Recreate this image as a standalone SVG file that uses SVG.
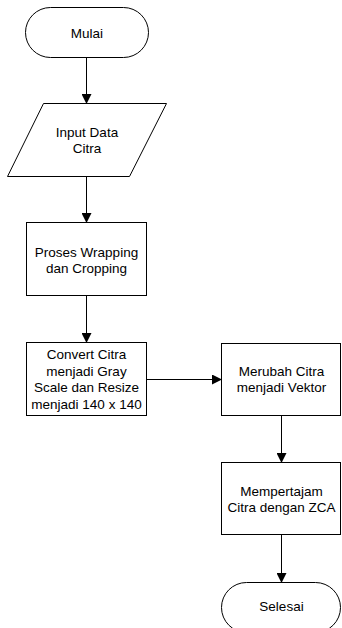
<svg xmlns="http://www.w3.org/2000/svg" width="342" height="628" viewBox="0 0 342 628">
<defs>
<marker id="ah" markerWidth="10" markerHeight="10" refX="9" refY="5" orient="auto" markerUnits="userSpaceOnUse">
<path d="M0,0 L10,5 L0,10 z" fill="#000"/>
</marker>
<style>
.s{fill:#fff;stroke:#000;stroke-width:1}
.t{font-family:"Liberation Sans",Arial,sans-serif;font-size:13.5px;fill:#000;text-anchor:middle;dominant-baseline:central}
.c{fill:none;stroke:#000;stroke-width:1;marker-end:url(#ah)}
</style>
</defs>
<rect width="342" height="628" fill="#fff"/>
<g id="connectors">
<path class="c" d="M86.5,57 V103"/>
<path class="c" d="M86.5,176 V222"/>
<path class="c" d="M86.5,296 V342"/>
<path class="c" d="M147,379.5 H221"/>
<path class="c" d="M281.5,416 V462"/>
<path class="c" d="M281.5,535 V582"/>
</g>
<g id="mulai">
<rect class="s" x="25.5" y="7.5" width="123" height="50" rx="25" ry="25"/>
<text class="t" x="87" y="33">Mulai</text>
</g>
<g id="input">
<polygon class="s" points="43.5,103.5 166.5,103.5 129.5,176.5 7.5,176.5"/>
<text class="t" x="87" y="132">Input Data</text>
<text class="t" x="87" y="148.5">Citra</text>
</g>
<g id="wrapping">
<rect class="s" x="26.5" y="222.5" width="120" height="73"/>
<text class="t" x="86.5" y="252">Proses Wrapping</text>
<text class="t" x="86.5" y="268.5">dan Cropping</text>
</g>
<g id="convert">
<rect class="s" x="26.5" y="342.5" width="120" height="73"/>
<text class="t" x="86.5" y="354.5">Convert Citra</text>
<text class="t" x="86.5" y="371">menjadi Gray</text>
<text class="t" x="86.5" y="387.5">Scale dan Resize</text>
<text class="t" x="86.5" y="404">menjadi 140 x 140</text>
</g>
<g id="vektor">
<rect class="s" x="221.5" y="343.5" width="119" height="72"/>
<text class="t" x="281.5" y="371">Merubah Citra</text>
<text class="t" x="281.5" y="387.5">menjadi Vektor</text>
</g>
<g id="zca">
<rect class="s" x="221.5" y="462.5" width="119" height="72"/>
<text class="t" x="281.5" y="491">Mempertajam</text>
<text class="t" x="281.5" y="507.5">Citra dengan ZCA</text>
</g>
<g id="selesai">
<rect class="s" x="221.5" y="582.5" width="119" height="50" rx="25" ry="25"/>
<text class="t" x="281.5" y="606">Selesai</text>
</g>
</svg>
